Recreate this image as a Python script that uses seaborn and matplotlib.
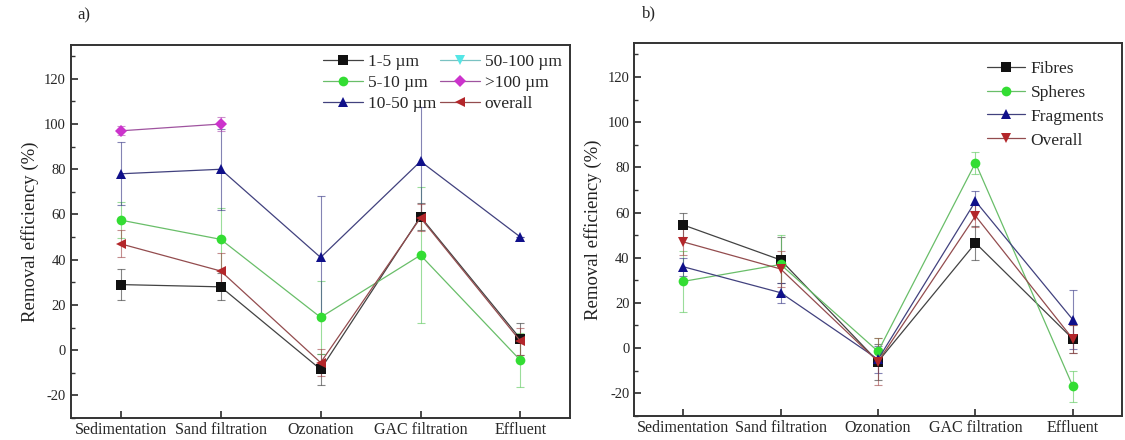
import matplotlib
matplotlib.use("Agg")
import matplotlib.pyplot as plt
from matplotlib.colors import to_rgb
from matplotlib.ticker import MultipleLocator
import numpy as np
import pandas as pd
import seaborn as sns

# treatment steps on the x axis
steps = ["Sedimentation", "Sand filtration", "Ozonation", "GAC filtration", "Effluent"]

# panel a) - removal by size class
size_names = ["1-5 \u00b5m", "5-10 \u00b5m", "10-50 \u00b5m", "50-100 \u00b5m", ">100 \u00b5m", "overall"]
size_1_5 = [29, 28, -8.5, 59, 5]
size_1_5_err = [7, 6, 7, 6, 7]
size_5_10 = [57.5, 49, 14.5, 42, -4.5]
size_5_10_err = [8, 14, 16, 30, 12]
size_10_50 = [78, 80, 41, 83.5, 50]
size_10_50_err = [14, 18, 27, 24, 0]
size_50_100 = [np.nan, np.nan, np.nan, np.nan, np.nan]
size_50_100_err = [np.nan, np.nan, np.nan, np.nan, np.nan]
size_100 = [97, 100, np.nan, np.nan, np.nan]
size_100_err = [2, 3, np.nan, np.nan, np.nan]
size_overall = [47, 35, -5.5, 58.5, 4]
size_overall_err = [6, 8, 6, 6, 6]

# panel b) - removal by shape
shape_names = ["Fibres", "Spheres", "Fragments", "Overall"]
fibres = [54.5, 39, -6, 46.5, 4]
fibres_err = [5.5, 10, 8, 7.5, 6]
spheres = [29.5, 37, -1.5, 82, -17]
spheres_err = [13.5, 13, 6, 5, 7]
fragments = [36, 24.5, -5, 65, 12.5]
fragments_err = [4, 4.5, 6, 4.5, 13]
shape_overall = [47, 35, -6, 58.5, 4]
shape_overall_err = [6, 8, 10.5, 5, 6]

plt_colors = {
    "black": "#111111", "green": "#33dd33", "navy": "#10108a",
    "cyan": "#55e6e6", "magenta": "#cc33cc", "red": "#b3262a",
}

sns.set_theme(style="ticks")
plt.rcParams["font.family"] = ["Liberation Serif", "DejaVu Serif"]
plt.rcParams["axes.unicode_minus"] = False


def greyish(c, k=0.5):
    # the connecting lines in the original are washed towards grey
    r, g, b = to_rgb(c)
    grey = 0.62 if g > 0.7 else 0.45
    return (r * (1 - k) + grey * k, g * (1 - k) + grey * k, b * (1 - k) + grey * k)


def long_table(names, values, errors):
    rows = []
    for name, vals, errs in zip(names, values, errors):
        for i, (v, e) in enumerate(zip(vals, errs)):
            rows.append({"series": name, "x": i, "value": v, "err": e})
    return pd.DataFrame(rows)


def recolor(lines, colors, markers=None):
    for i, (ln, col) in enumerate(zip(lines, colors)):
        ln.set_color(greyish(col))
        ln.set_markerfacecolor(col)
        ln.set_markeredgecolor(col)
        if markers is not None and markers[i] == "D":
            ln.set_markersize(6)


def draw_panel(ax, df, names, colors, markers, ncol, lg_kw):
    for name, col in zip(names, colors):
        d = df[df.series == name]
        ax.errorbar(d.x, d.value, yerr=d.err, fmt="none", ecolor=greyish(col, 0.35),
                    elinewidth=0.8, capsize=3, capthick=0.8, alpha=0.6, zorder=2)
    n_before = len(ax.get_lines())
    pal = dict(zip(names, colors))
    sns.lineplot(data=df, x="x", y="value", hue="series", style="series",
                 hue_order=names, style_order=names, palette=pal,
                 markers=dict(zip(names, markers)), dashes=False,
                 markersize=7, linewidth=0.9, markeredgewidth=0,
                 ax=ax, zorder=3, legend="full")
    # seaborn skips the groups that have no values at all
    has_data = [df[df.series == n].value.notna().any() for n in names]
    data_lines = ax.get_lines()[n_before:]
    recolor(data_lines,
            [c for c, h in zip(colors, has_data) if h],
            [m for m, h in zip(markers, has_data) if h])
    ax.set_xlim(-0.5, 4.5)
    ax.set_ylim(-30, 135)
    ax.set_xticks(range(len(steps)))
    ax.set_xticklabels(steps, fontsize=11.5)
    ax.yaxis.set_major_locator(MultipleLocator(20))
    ax.yaxis.set_minor_locator(MultipleLocator(10))
    ax.tick_params(axis="y", which="both", direction="in", labelsize=10.5, color="#333333")
    ax.tick_params(axis="y", which="major", length=5)
    ax.tick_params(axis="y", which="minor", length=3)
    ax.tick_params(axis="x", direction="in", length=5, color="#333333", pad=3)
    ax.set_xlabel("")
    ax.set_ylabel("Removal efficiency (%)", fontsize=13.5, color="#222222")
    for sp in ax.spines.values():
        sp.set_linewidth(1.4)
        sp.set_color("#333333")
    leg = ax.legend(title=None, frameon=False, loc="upper right", ncol=ncol, **lg_kw)
    recolor(leg.get_lines(), colors, markers)


fig = plt.figure(figsize=(11.25, 4.4), dpi=100)
ax_a = fig.add_axes([0.063, 0.05, 0.444, 0.848])
ax_b = fig.add_axes([0.564, 0.055, 0.433, 0.847])

df_a = long_table(size_names,
                  [size_1_5, size_5_10, size_10_50, size_50_100, size_100, size_overall],
                  [size_1_5_err, size_5_10_err, size_10_50_err, size_50_100_err, size_100_err, size_overall_err])
draw_panel(ax_a, df_a, size_names,
           [plt_colors[c] for c in ["black", "green", "navy", "cyan", "magenta", "red"]],
           ["s", "o", "^", "v", "D", "<"], 2,
           dict(fontsize=12.5, handlelength=2.3, handletextpad=0.3, labelspacing=0.3,
                columnspacing=0.2, borderaxespad=0.1))

df_b = long_table(shape_names,
                  [fibres, spheres, fragments, shape_overall],
                  [fibres_err, spheres_err, fragments_err, shape_overall_err])
draw_panel(ax_b, df_b, shape_names,
           [plt_colors[c] for c in ["black", "green", "navy", "red"]],
           ["s", "o", "^", "v"], 1,
           dict(fontsize=12.5, handlelength=2.2, handletextpad=0.3, labelspacing=0.45,
                borderaxespad=0.6))

fig.text(0.069, 0.955, "a)", fontsize=12)
fig.text(0.571, 0.96, "b)", fontsize=12)

fig.savefig("out.png", dpi=100)
